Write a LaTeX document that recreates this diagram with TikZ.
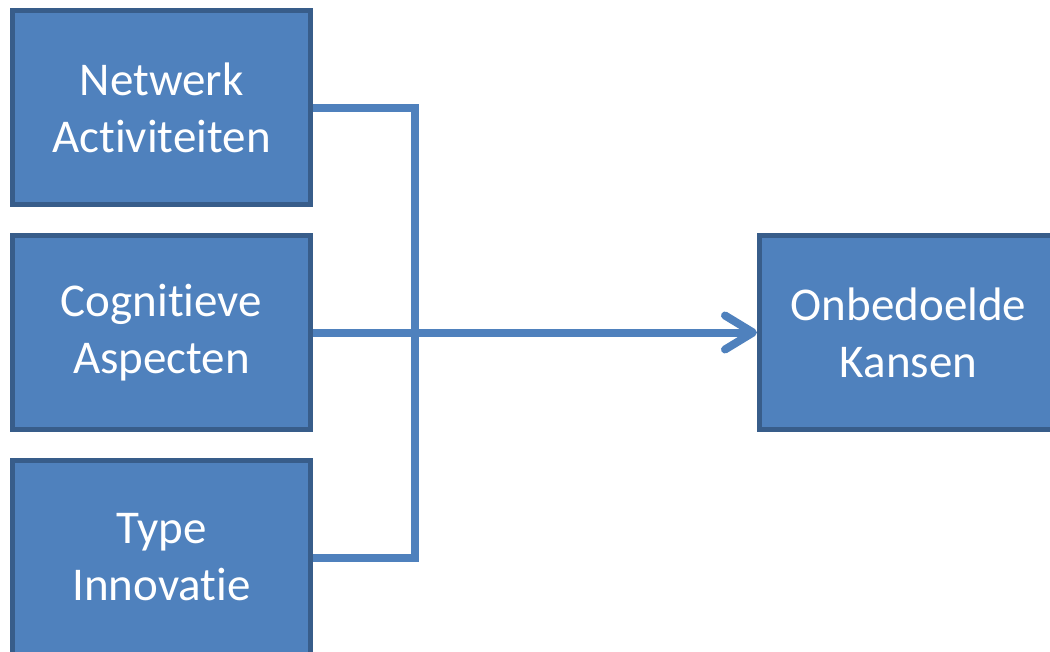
\documentclass[tikz,border=0pt]{standalone}
\usepackage{fontspec}
\setmainfont{Carlito}[Ligatures={NoCommon}]
\usetikzlibrary{arrows.meta,positioning}
\definecolor{boxfill}{HTML}{4F81BD}
\definecolor{boxline}{HTML}{385D8A}
\tikzset{%
        x = 1pt,
        y = -1pt,
        node distance = 26pt
}
\tikzstyle{factor}=[
    draw = boxline,
    fill = boxfill,
    line width = 5pt,
    minimum width = 298pt,
    minimum height = 194pt,
    inner sep = 0pt,
    text = white,
    align = center,
    font = \fontsize{47}{57}\selectfont
]
\tikzstyle{link}=[
    draw = boxfill,
    line width = 8pt
]

\begin{document}
\begin{tikzpicture}
        \clip (0,0) rectangle (1050,651);
        \fill[white] (0,0) rectangle (1050,651);
        \node[factor] (netwerk) at (161.5,107.5) {Netwerk\\Activiteiten};
        \node[factor] (cognitief) [below = of netwerk] {Cognitieve\\Aspecten};
        \node[factor] (type) [below = of cognitief] {Type\\Innovatie};
        \node[factor] (kansen) [right = 444pt of cognitief] {Onbedoelde\\Kansen};
        \coordinate (knik) at (415,332.5);
        \draw[link] (netwerk.east) -| (knik) |- (type.east);
        \draw[link, -{Straight Barb[length=28pt, width=34pt, round]}]
        (cognitief.east) -- (kansen.west);
    \end{tikzpicture}
\end{document}
